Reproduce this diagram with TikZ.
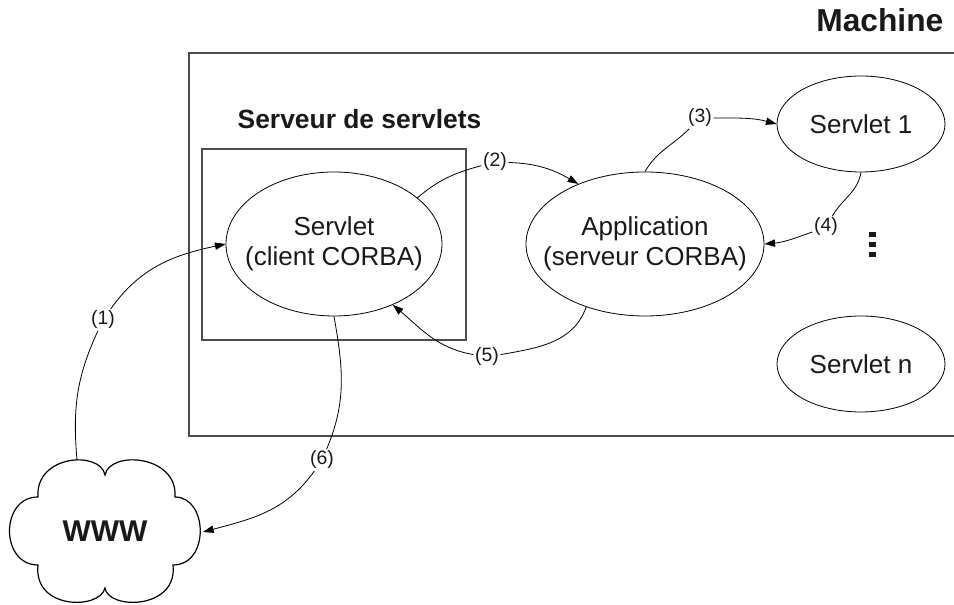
\documentclass[tikz,border=0pt]{standalone}
\usepackage{fontspec}
\setmainfont{Liberation Sans}
\usetikzlibrary{shapes.geometric,arrows.meta}

\tikzset{
  proc/.style={ellipse,draw=black,line width=0.6pt,inner sep=0pt},
  bigtxt/.style={font=\fontsize{19.5}{22.5}\selectfont,align=center,text=black!90},
  numlbl/.style={font=\fontsize{14.5}{16}\selectfont,inner sep=1.2pt,text=black!90},
  flow/.style={line width=0.6pt,-{Triangle[length=8pt,width=5.5pt]}},
  frame/.style={draw=black!70,line width=1pt},
}

\begin{document}
\begin{tikzpicture}[x=0.75pt,y=0.75pt]
  \useasboundingbox (0,0) rectangle (954,605);

  % machine frame, open on the right
  \draw[frame,line width=1.2pt] (954,552) -- (189,552) -- (189,169) -- (954,169);
  \node[anchor=base east,font=\bfseries\fontsize{23.8}{26}\selectfont,text=black!90]
    (machine) at (948,573) {Machine};

  % servlet server frame
  \draw[frame] (202,265) rectangle (466,456);
  \node[anchor=base west,font=\bfseries\fontsize{19.8}{22}\selectfont,text=black!90]
    (sdstitle) at (233,476) {Serveur de servlets};

  % processes
  \node[proc,minimum width=162pt,minimum height=108pt] (srv) at (334,361) {};
  \node[bigtxt] (srvtxt) at (334,361) {Servlet\\(client CORBA)};
  \node[proc,minimum width=178.5pt,minimum height=108pt] (app) at (645,361) {};
  \node[bigtxt] (apptxt) at (645,361) {Application\\(serveur CORBA)};
  \node[proc,minimum width=126pt,minimum height=72pt] (s1) at (861,481) {};
  \node[bigtxt] (s1txt) at (861,481) {Servlet 1};
  \node[proc,minimum width=126pt,minimum height=72pt] (sn) at (861,241) {};
  \node[bigtxt] (sntxt) at (861,241) {Servlet n};

  % vertical ellipsis between the servlets
  \foreach \yy in {370.5,360.5,350.5}
    \fill[black!90] (869,\yy-2.7) rectangle (875.5,\yy+2.7);

  % the web cloud
  \draw[line width=0.9pt,fill=white]
    (38,108) .. controls (35,150) and (100,155) .. (105,130)
             .. controls (110,155) and (178,150) .. (175,108)
             .. controls (208,108) and (210,40) .. (173,40)
             .. controls (178,-5) and (108,-5) .. (105,17)
             .. controls (100,-5) and (33,-5) .. (38,40)
             .. controls (0,40) and (0,108) .. (38,108) -- cycle;
  \node[anchor=base,font=\bfseries\fontsize{22.5}{24}\selectfont,text=black!90]
    (www) at (105,63) {WWW};
  \coordinate (cloudtop) at (77,145);
  \coordinate (cloudright) at (203,73);

  % step labels
  \node[numlbl] (l1) at (103,285) {(1)};
  \node[numlbl] (l2) at (495,443) {(2)};
  \node[numlbl] (l3) at (700,487) {(3)};
  \node[numlbl] (l4) at (826,378) {(4)};
  \node[numlbl] (l5) at (487,248) {(5)};
  \node[numlbl] (l6) at (322,145) {(6)};

  % request / response flow
  \draw[flow] (cloudtop) to[out=95,in=-115] (l1) to[out=55,in=192] (srv.west);
  \draw[flow] (srv.29) to[out=40,in=195] (l2) to[out=-2,in=150] (app.138);
  \draw[flow] (app.90) to[out=60,in=-135] (l3) to[out=0,in=165] (s1.west);
  \draw[flow] (s1.south) to[out=-100,in=60] (l4) to[out=200,in=5] (app.east);
  \draw[flow] (app.227) to[out=250,in=10] (l5) to[out=170,in=-40] (srv.314);
  \draw[flow] (srv.south) to[out=-80,in=67] (l6) to[out=235,in=15] (cloudright);
\end{tikzpicture}
\end{document}
